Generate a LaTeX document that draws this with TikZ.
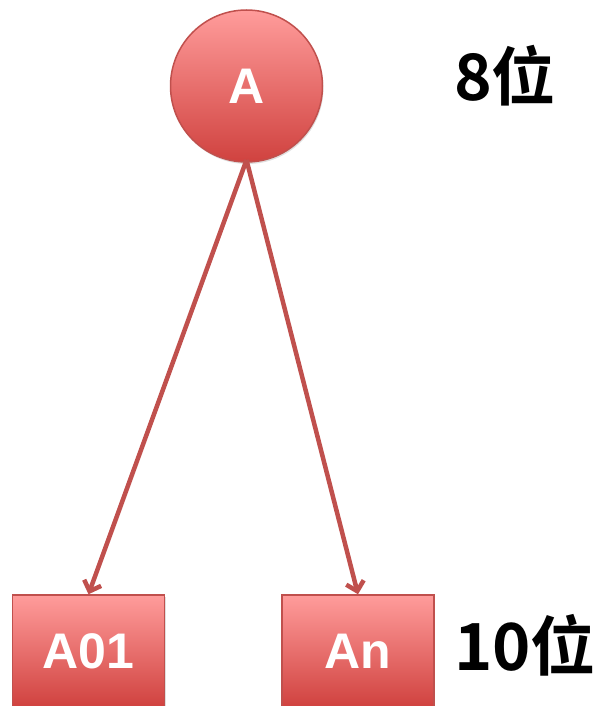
\documentclass[tikz,border=0pt]{standalone}
\usepackage{fontspec}
\setmainfont{Liberation Sans}
\newfontfamily\cjkfont{Noto Sans CJK SC}[BoldFont={* Bold}]
\usetikzlibrary{arrows.meta,shadows}
\definecolor{edgered}{HTML}{C0504D}
\definecolor{topred}{HTML}{FF9C9B}
\definecolor{botred}{HTML}{D0423F}
\tikzset{
  redshape/.style={draw=edgered, line width=1.5pt, top color=topred, bottom color=botred,
    drop shadow={opacity=0.25, shadow xshift=1pt, shadow yshift=-2pt},
    text=white, font=\bfseries\fontsize{50}{50}\selectfont, inner sep=0pt},
  circnode/.style={redshape, circle, minimum size=152pt},
  boxnode/.style={redshape, rectangle, minimum width=152pt, minimum height=112pt},
  link/.style={draw=edgered, line width=4.5pt, -{Straight Barb[length=9pt,width=18pt,line width=4.5pt]}},
  bitlabel/.style={font=\cjkfont\bfseries, text=black, inner sep=0pt}
}
\begin{document}
\begin{tikzpicture}[x=1pt,y=-1pt]
\useasboundingbox (0,0) rectangle (598,706);
\node[circnode] (a) at (246.5,86) {A};
\node[boxnode] (a01) at (88.5,651) {A01};
\node[boxnode] (an) at (358,651) {An};
\coordinate (s) at (246.5,160);
\draw[link] (s) -- (a01.north);
\draw[link] (s) -- (an.north);
\node[bitlabel, font=\cjkfont\bfseries\fontsize{64}{64}\selectfont] (l8) at (505,76) {8位};
\node[bitlabel, font=\cjkfont\bfseries\fontsize{65}{65}\selectfont] (l10) at (525,645) {10位};
\end{tikzpicture}
\end{document}
